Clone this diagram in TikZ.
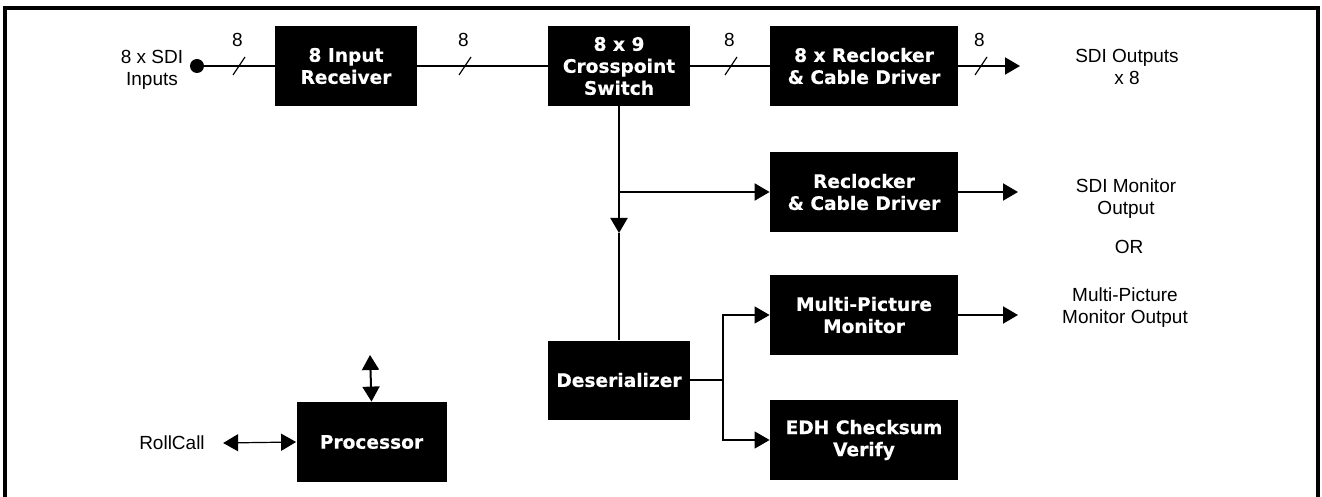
\documentclass[tikz,border=0pt]{standalone}
\usepackage{fontspec}
\setmainfont{Liberation Sans}
\newfontfamily\blkfont{DejaVu Sans}[BoldFeatures={FakeBold=0.5}]
\usepackage{tikz}
\usetikzlibrary{arrows.meta}

\tikzset{
	blk/.style={fill=black,text=white,font=\blkfont\bfseries\fontsize{9.3}{11}\selectfont,
		align=center,inner sep=0pt,minimum width=71pt,minimum height=40pt},
	wideblk/.style={blk,minimum width=94pt},
	lbl/.style={font=\fontsize{9.5}{11}\selectfont,align=center,inner sep=0pt},
	sig/.style={line width=1pt},
	tip/.tip={Triangle[length=7.5pt,width=8.5pt]},
	sigarr/.style={sig,-tip},
	thinarr/.style={line width=0.6pt,-tip}
}

\begin{document}
\begin{tikzpicture}[x=0.5pt,y=-0.5pt]
	\useasboundingbox (0,0) rectangle (1322,497);
	% outer frame, open at the bottom
	\draw[line width=2pt] (5,497) -- (5,8) -- (1318,8) -- (1318,497);

	% blocks
	\node (recv) at(346,66)[blk]{8 Input\\Receiver};
	\node (xpt) at(619,66)[blk]{8 x 9\\Crosspoint\\Switch};
	\node (rclk8) at(864,66)[wideblk]{8 x Reclocker\\\& Cable Driver};
	\node (rclk) at(864,192)[wideblk]{Reclocker\\\& Cable Driver};
	\node (mpm) at(864,315)[wideblk]{Multi-Picture\\Monitor};
	\node (edh) at(864,440)[wideblk]{EDH Checksum\\Verify};
	\node (deser) at(619,380)[blk,minimum height=39.5pt]{Deserializer};
	\node (proc) at(371.5,442)[blk,minimum width=75pt]{Processor};

	% text outside the blocks
	\node (inlbl) at(152,70)[lbl]{8 x SDI\\Inputs};
	\node (outlbl) at(1127,67)[lbl]{SDI Outputs\\x 8};
	\node (monlbl) at(1126,199)[lbl]{SDI Monitor\\Output};
	\node (orlbl) at(1129,247)[lbl]{OR};
	\node (mpmlbl) at(1125,308)[lbl]{Multi-Picture\\Monitor Output};
	\node (rclbl) at(172,443)[lbl]{RollCall};

	\node (in) at(197,66)[circle,fill=black,inner sep=0pt,minimum size=7pt]{};
	\coordinate (outA) at(1020,66);
	\coordinate (outB) at(1018,192);
	\coordinate (outC) at(1018,315);
	\coordinate (tap) at(619,192);
	\coordinate (mid) at(619,233);
	\coordinate (fork) at(723,380);
	\coordinate (bus) at(370,355);

	% 8 wide video bus
	\draw[sig] (in) -- (recv);
	\draw[sig] (recv) -- (xpt);
	\draw[sig] (xpt) -- (rclk8);
	\draw[sigarr] (rclk8) -- (outA);
	\foreach \x/\n in {239/a,465/b,731/c,981/d}{
		\draw[line width=0.6pt] (\x-6,75) -- (\x+6,57);
		\node (w\n) at(\x-1.5,40)[lbl]{8};
	}

	% monitor path
	\draw[sig] (xpt.south) -- (tap);
	\draw[sigarr] (tap) -- (mid);
	\draw[sig] (mid) -- (deser.north);
	\draw[sigarr] (tap) -- (rclk.west);
	\draw[sigarr] (rclk) -- (outB);
	\draw[sigarr] (mpm) -- (outC);

	\draw[sig] (deser) -- (fork);
	\draw[thinarr] (fork) |- (mpm.west);
	\draw[thinarr] (fork) |- (edh.west);

	% control
	\draw[sig,tip-tip] (bus) -- (proc.north);
	\draw[line width=0.6pt,tip-tip] ([xshift=9pt]rclbl.east) -- (proc.west);
\end{tikzpicture}
\end{document}
